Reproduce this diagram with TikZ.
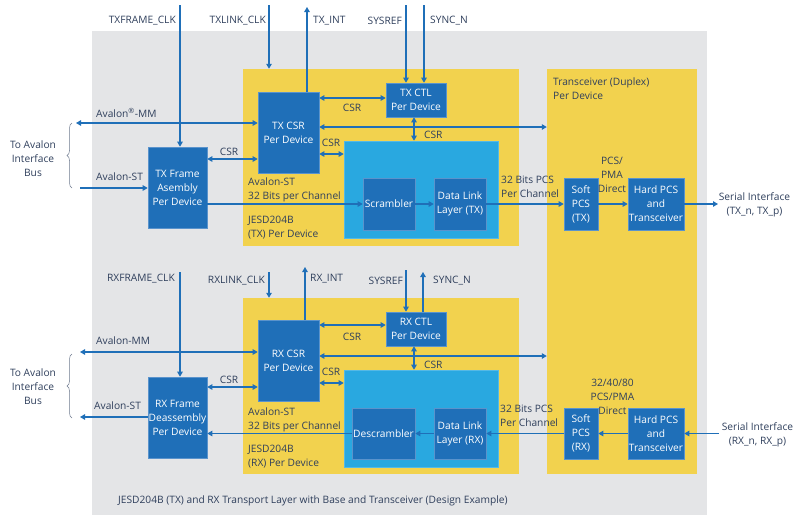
\documentclass[tikz,border=0pt]{standalone}
\usepackage{fontspec}
\setmainfont{Open Sans}
\usetikzlibrary{arrows.meta,decorations.pathreplacing}
\definecolor{bgc}{HTML}{E4E5E7}
\definecolor{ylw}{HTML}{F2D24E}
\definecolor{dblue}{HTML}{1F6FB8}
\definecolor{lblue}{HTML}{29A8E0}
\definecolor{edge}{HTML}{5A93CC}
\definecolor{txt}{HTML}{2F3F5C}
\begin{document}
\begin{tikzpicture}[x=1pt,y=-1pt,
  font=\fontsize{10.2}{14}\selectfont,
  area/.style={inner sep=0pt, draw=none},
  box/.style={fill=dblue, draw=edge, line width=0.6pt, text=white, align=center, inner sep=0pt},
  lbl/.style={text=txt, inner sep=0pt, align=left},
  ln/.style={draw=dblue, line width=1.1pt},
  arr/.style={ln, -{Triangle[length=5pt,width=5.5pt]}},
  darr/.style={ln, {Triangle[length=5pt,width=5.5pt]}-{Triangle[length=5pt,width=5.5pt]}},
  brc/.style={draw=txt!70, line width=0.5pt, decorate, decoration={brace, amplitude=5pt, mirror}}
]
\useasboundingbox (0,0) rectangle (800,520);
% backgrounds
\node[area, fill=bgc, minimum width=615, minimum height=484] (gray) at (399.5,273) {};
\node[area, fill=ylw, minimum width=276, minimum height=177] (ty) at (381,157.5) {};
\node[area, fill=ylw, minimum width=276, minimum height=176] (ry) at (381,386) {};
\node[area, fill=ylw, minimum width=150, minimum height=405] (xcvr) at (622,271.5) {};
\node[area, fill=lblue, draw=lblue!80!white, line width=0.6pt, minimum width=154, minimum height=97] (tcyan) at (421,189.5) {};
\node[area, fill=lblue, draw=lblue!80!white, line width=0.6pt, minimum width=154, minimum height=97] (rcyan) at (421,418.5) {};
% TX boxes
\node[box, minimum width=59, minimum height=81] (tframe) at (177.5,187.5) {TX Frame\\Asembly\\Per Device};
\node[box, minimum width=61, minimum height=81] (tcsr) at (288.5,132.5) {TX CSR\\Per Device};
\node[box, minimum width=60, minimum height=34] (tctl) at (416,100) {TX CTL\\Per Device};
\node[box, minimum width=52, minimum height=52] (scr) at (389,204) {Scrambler};
\node[box, minimum width=52, minimum height=52] (tdll) at (460,204) {Data Link\\Layer (TX)};
\node[box, minimum width=34, minimum height=52] (tspcs) at (581,204) {Soft\\PCS\\(TX)};
\node[box, minimum width=56, minimum height=52] (thpcs) at (656,204) {Hard PCS\\and\\Transceiver};
% RX boxes
\node[box, minimum width=59, minimum height=81] (rframe) at (177.5,417.5) {RX Frame\\Deassembly\\Per Device};
\node[box, minimum width=61, minimum height=81] (rcsr) at (288.5,360.5) {RX CSR\\Per Device};
\node[box, minimum width=60, minimum height=34] (rctl) at (416,329) {RX CTL\\Per Device};
\node[box, minimum width=63, minimum height=51] (desc) at (383.5,433.5) {Descrambler};
\node[box, minimum width=52, minimum height=51] (rdll) at (460,433.5) {Data Link\\Layer (RX)};
\node[box, minimum width=34, minimum height=51] (rspcs) at (581,433.5) {Soft\\PCS\\(RX)};
\node[box, minimum width=56, minimum height=51] (rhpcs) at (656,433.5) {Hard PCS\\and\\Transceiver};
% helper coordinates
\coordinate (y98) at (0,98);
\coordinate (y127) at (0,127);
\coordinate (y154) at (0,154);
\coordinate (y159) at (0,159);
\coordinate (y204) at (0,204);
\coordinate (y325) at (0,325);
\coordinate (y356) at (0,356);
\coordinate (y383) at (0,383);
\coordinate (y387) at (0,387);
\coordinate (y417) at (0,417);
\coordinate (x414) at (414,0);
% free ends
\coordinate (tfc) at (180,5);
\coordinate (tlc) at (269,5);
\coordinate (tint) at (307,7);
\coordinate (tsys) at (406,5);
\coordinate (tsyn) at (424,5);
\coordinate (tmm) at (76,123);
\coordinate (tst) at (80,188);
\coordinate (tser) at (718,204);
\coordinate (rfc) at (180,272);
\coordinate (rlc) at (269,272);
\coordinate (rint) at (305,267);
\coordinate (rsys) at (406,270);
\coordinate (rsyn) at (423,272);
\coordinate (rmm) at (80,352);
\coordinate (rst) at (80,417);
\coordinate (rser) at (719,433.5);
% TX connectors
\draw[arr] (tfc) -- (tfc |- tframe.north);
\draw[arr] (tlc) -- (tlc |- ty.north);
\draw[arr] (tcsr.north -| tint) -- (tint);
\draw[arr] (tsys) -- (tsys |- tctl.north);
\draw[arr] (tsyn) -- (tsyn |- tctl.north);
\draw[darr] (tmm) -- (tmm -| tcsr.west);
\draw[arr] (tst) -- (tst -| tframe.west);
\draw[darr] (tframe.east |- y159) -- (tcsr.west |- y159);
\draw[darr] (tcsr.east |- y98) -- (tctl.west |- y98);
\draw[darr] (tcsr.east |- y127) -- (xcvr.west |- y127);
\draw[darr] (tcsr.east |- y154) -- (tcyan.west |- y154);
\draw[darr] (tctl.south -| x414) -- (tcyan.north -| x414);
\draw[arr] (tframe.east |- y204) -- (scr.west);
\draw[arr] (scr.east) -- (tdll.west);
\draw[arr] (tdll.east) -- (tspcs.west);
\draw[arr] (tspcs.east) -- (thpcs.west);
\draw[arr] (thpcs.east) -- (tser);
% RX connectors
\draw[arr] (rfc) -- (rfc |- rframe.north);
\draw[arr] (rlc) -- (rlc |- ry.north);
\draw[arr] (rcsr.north -| rint) -- (rint);
\draw[arr] (rsys) -- (rsys |- rctl.north);
\draw[arr] (rctl.north -| rsyn) -- (rsyn);
\draw[darr] (rmm) -- (rmm -| rcsr.west);
\draw[arr] (rframe.west |- y417) -- (rst);
\draw[darr] (rframe.east |- y387) -- (rcsr.west |- y387);
\draw[darr] (rcsr.east |- y325) -- (rctl.west |- y325);
\draw[darr] (rcsr.east |- y356) -- (xcvr.west |- y356);
\draw[darr] (rcsr.east |- y383) -- (rcyan.west |- y383);
\draw[darr] (rctl.south -| x414) -- (rcyan.north -| x414);
\draw[arr] (rser) -- (rhpcs.east);
\draw[arr] (rhpcs.west) -- (rspcs.east);
\draw[arr] (rspcs.west) -- (rdll.east);
\draw[arr] (rdll.west) -- (desc.east);
\draw[arr] (desc.west) -- (rframe.east |- desc.west);
% braces
\coordinate (tb1) at (72,123);
\coordinate (tb2) at (72,188);
\coordinate (rb1) at (72,354);
\coordinate (rb2) at (72,418);
\draw[brc] (tb1) -- (tb2);
\draw[brc] (rb1) -- (rb2);
% labels TX
\node[lbl, anchor=east] (l1) at (176,21) {TXFRAME\_CLK};
\node[lbl, anchor=east] (l2) at (266,21) {TXLINK\_CLK};
\node[lbl, anchor=west] (l3) at (313,21) {TX\_INT};
\node[lbl, anchor=east] (l4) at (402,21) {SYSREF};
\node[lbl, anchor=west] (l5) at (430,21) {SYNC\_N};
\node[lbl, anchor=west] (l6) at (96,113) {Avalon\textsuperscript{®}-MM};
\node[lbl, anchor=west] (l7) at (96,177) {Avalon-ST};
\node[lbl, align=center] (l8) at (33,159) {To Avalon\\Interface\\Bus};
\node[lbl] (l9) at (229,152) {CSR};
\node[lbl] (l10) at (352,108) {CSR};
\node[lbl] (l11) at (331,143) {CSR};
\node[lbl, anchor=west] (l12) at (424,135) {CSR};
\node[lbl, anchor=west] (l13) at (248,190) {Avalon-ST\\32 Bits per Channel};
\node[lbl, anchor=west] (l14) at (248,228) {JESD204B\\(TX) Per Device};
\node[lbl, anchor=west] (l15) at (501,187) {32 Bits PCS\\Per Channel};
\node[lbl, anchor=west] (l16) at (553,89) {Transceiver (Duplex)\\Per Device};
\node[lbl, align=center] (l17) at (612,175) {PCS/\\PMA\\Direct};
\node[lbl, align=center] (l18) at (754.5,205) {Serial Interface\\(TX\_n, TX\_p)};
% labels RX
\node[lbl, anchor=east] (m1) at (175,279) {RXFRAME\_CLK};
\node[lbl, anchor=east] (m2) at (265,281) {RXLINK\_CLK};
\node[lbl, anchor=west] (m3) at (310,279) {RX\_INT};
\node[lbl, anchor=east] (m4) at (403,281) {SYSREF};
\node[lbl, anchor=west] (m5) at (433,281) {SYNC\_N};
\node[lbl, anchor=west] (m6) at (96,341) {Avalon-MM};
\node[lbl, anchor=west] (m7) at (94,406) {Avalon-ST};
\node[lbl, align=center] (m8) at (33,387) {To Avalon\\Interface\\Bus};
\node[lbl] (m9) at (229,380) {CSR};
\node[lbl] (m10) at (352,337) {CSR};
\node[lbl] (m11) at (331,372) {CSR};
\node[lbl, anchor=west] (m12) at (424,365) {CSR};
\node[lbl, anchor=west] (m13) at (248,420) {Avalon-ST\\32 Bits per Channel};
\node[lbl, anchor=west] (m14) at (248,457) {JESD204B\\(RX) Per Device};
\node[lbl, anchor=west] (m15) at (500,416) {32 Bits PCS\\Per Channel};
\node[lbl, align=center] (m17) at (612.5,397) {32/40/80\\PCS/PMA\\Direct};
\node[lbl, align=center] (m18) at (757.5,435) {Serial Interface\\(RX\_n, RX\_p)};
\node[lbl, anchor=west] (cap) at (118,501) {JESD204B (TX) and RX Transport Layer with Base and Transceiver (Design Example)};
\end{tikzpicture}
\end{document}
